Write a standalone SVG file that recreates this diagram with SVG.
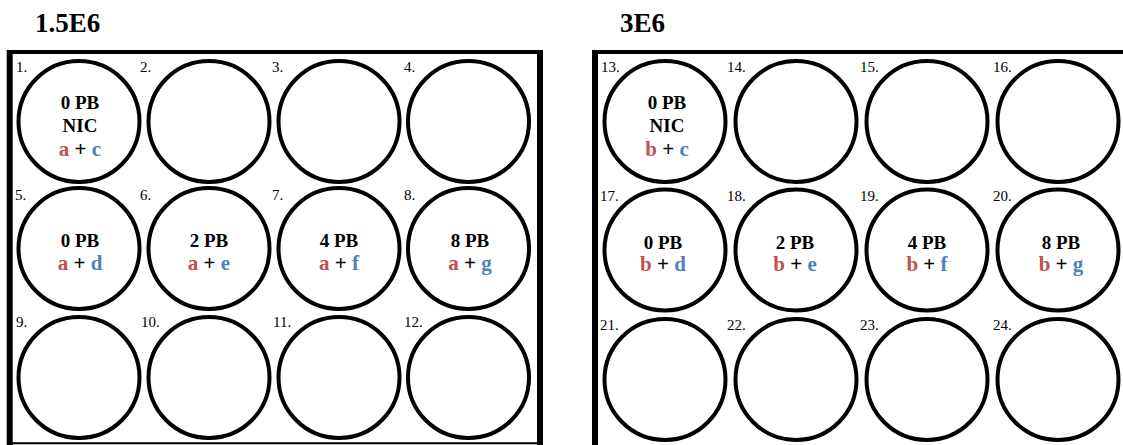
<svg xmlns="http://www.w3.org/2000/svg" width="1123" height="445" viewBox="0 0 1123 445">
<defs>
<style>
.well{fill:#fff;stroke:#000;stroke-width:4}
.frame{stroke:#000;fill:none}
.num{font-family:"Liberation Serif",serif;font-size:15px;fill:#000}
.title{font-family:"Liberation Serif",serif;font-size:27px;font-weight:bold;fill:#000}
.lbl{font-family:"Liberation Serif",serif;font-size:19px;font-weight:bold;fill:#000;text-anchor:middle}
.mix{font-size:21px}
.r{fill:#C0504D}
.b{fill:#4F81BD}
</style>
</defs>
<rect width="1123" height="445" fill="#fff"/>
<text class="title" x="35" y="32">1.5E6</text>
<text class="title" x="620" y="32">3E6</text>
<g id="plate1">
<line class="frame" x1="7" y1="52" x2="543" y2="52" stroke-width="4"/>
<line class="frame" x1="9.7" y1="50" x2="9.7" y2="445" stroke-width="6"/>
<line class="frame" x1="540" y1="50" x2="540" y2="445" stroke-width="6"/>
<line class="frame" x1="7" y1="443.3" x2="543" y2="443.3" stroke-width="2"/>
</g>
<g id="plate2">
<line class="frame" x1="592" y1="52" x2="1123" y2="52" stroke-width="4"/>
<line class="frame" x1="595" y1="50" x2="595" y2="445" stroke-width="6"/>
</g>
<g id="w1"><circle class="well" cx="79" cy="121.5" r="60.5"/><text class="num" x="16" y="72">1.</text>
<text class="lbl" x="80" y="109">0 PB</text><text class="lbl" x="80" y="132">NIC</text><text class="lbl mix" x="80" y="156"><tspan class="r">a</tspan> + <tspan class="b">c</tspan></text></g>
<g id="w2"><circle class="well" cx="209" cy="121.5" r="60.5"/><text class="num" x="140" y="72">2.</text></g>
<g id="w3"><circle class="well" cx="339" cy="121.5" r="60.5"/><text class="num" x="272" y="72">3.</text></g>
<g id="w4"><circle class="well" cx="468.5" cy="121.5" r="60.5"/><text class="num" x="404" y="72">4.</text></g>
<g id="w5"><circle class="well" cx="79" cy="248.5" r="60.5"/><text class="num" x="15" y="199.5">5.</text>
<text class="lbl" x="80" y="247">0 PB</text><text class="lbl mix" x="80" y="269.5"><tspan class="r">a</tspan> + <tspan class="b">d</tspan></text></g>
<g id="w6"><circle class="well" cx="209" cy="248.5" r="60.5"/><text class="num" x="140" y="199.5">6.</text>
<text class="lbl" x="209" y="247">2 PB</text><text class="lbl mix" x="209" y="269.5"><tspan class="r">a</tspan> + <tspan class="b">e</tspan></text></g>
<g id="w7"><circle class="well" cx="339" cy="248.5" r="60.5"/><text class="num" x="272" y="199.5">7.</text>
<text class="lbl" x="339" y="247">4 PB</text><text class="lbl mix" x="339" y="269.5"><tspan class="r">a</tspan> + <tspan class="b">f</tspan></text></g>
<g id="w8"><circle class="well" cx="468.5" cy="248.5" r="60.5"/><text class="num" x="404" y="199.5">8.</text>
<text class="lbl" x="470" y="247">8 PB</text><text class="lbl mix" x="470" y="269.5"><tspan class="r">a</tspan> + <tspan class="b">g</tspan></text></g>
<g id="w9"><circle class="well" cx="79" cy="377.5" r="60.5"/><text class="num" x="16" y="327">9.</text></g>
<g id="w10"><circle class="well" cx="209" cy="377.5" r="60.5"/><text class="num" x="141" y="327">10.</text></g>
<g id="w11"><circle class="well" cx="339" cy="377.5" r="60.5"/><text class="num" x="273" y="327">11.</text></g>
<g id="w12"><circle class="well" cx="468.5" cy="377.5" r="60.5"/><text class="num" x="404" y="327">12.</text></g>
<g id="w13"><circle class="well" cx="665" cy="121.5" r="60.5"/><text class="num" x="601" y="72">13.</text>
<text class="lbl" x="667" y="109">0 PB</text><text class="lbl" x="667" y="132">NIC</text><text class="lbl mix" x="667" y="156"><tspan class="r">b</tspan> + <tspan class="b">c</tspan></text></g>
<g id="w14"><circle class="well" cx="796" cy="121.5" r="60.5"/><text class="num" x="727" y="72">14.</text></g>
<g id="w15"><circle class="well" cx="927" cy="121.5" r="60.5"/><text class="num" x="860" y="72">15.</text></g>
<g id="w16"><circle class="well" cx="1058" cy="121.5" r="60.5"/><text class="num" x="993" y="72">16.</text></g>
<g id="w17"><circle class="well" cx="665" cy="250" r="60.5"/><text class="num" x="600" y="200.5">17.</text>
<text class="lbl" x="663" y="248.5">0 PB</text><text class="lbl mix" x="663" y="271"><tspan class="r">b</tspan> + <tspan class="b">d</tspan></text></g>
<g id="w18"><circle class="well" cx="796" cy="250" r="60.5"/><text class="num" x="727" y="200.5">18.</text>
<text class="lbl" x="795" y="248.5">2 PB</text><text class="lbl mix" x="795" y="271"><tspan class="r">b</tspan> + <tspan class="b">e</tspan></text></g>
<g id="w19"><circle class="well" cx="927" cy="250" r="60.5"/><text class="num" x="860" y="200.5">19.</text>
<text class="lbl" x="927" y="248.5">4 PB</text><text class="lbl mix" x="927" y="271"><tspan class="r">b</tspan> + <tspan class="b">f</tspan></text></g>
<g id="w20"><circle class="well" cx="1058" cy="250" r="60.5"/><text class="num" x="993" y="200.5">20.</text>
<text class="lbl" x="1061" y="248.5">8 PB</text><text class="lbl mix" x="1061" y="271"><tspan class="r">b</tspan> + <tspan class="b">g</tspan></text></g>
<g id="w21"><circle class="well" cx="665" cy="379.5" r="60.5"/><text class="num" x="600" y="329.5">21.</text></g>
<g id="w22"><circle class="well" cx="796" cy="379.5" r="60.5"/><text class="num" x="727" y="329.5">22.</text></g>
<g id="w23"><circle class="well" cx="927" cy="379.5" r="60.5"/><text class="num" x="860" y="329.5">23.</text></g>
<g id="w24"><circle class="well" cx="1058" cy="379.5" r="60.5"/><text class="num" x="993" y="329.5">24.</text></g>
<g id="connectors"></g>
</svg>
